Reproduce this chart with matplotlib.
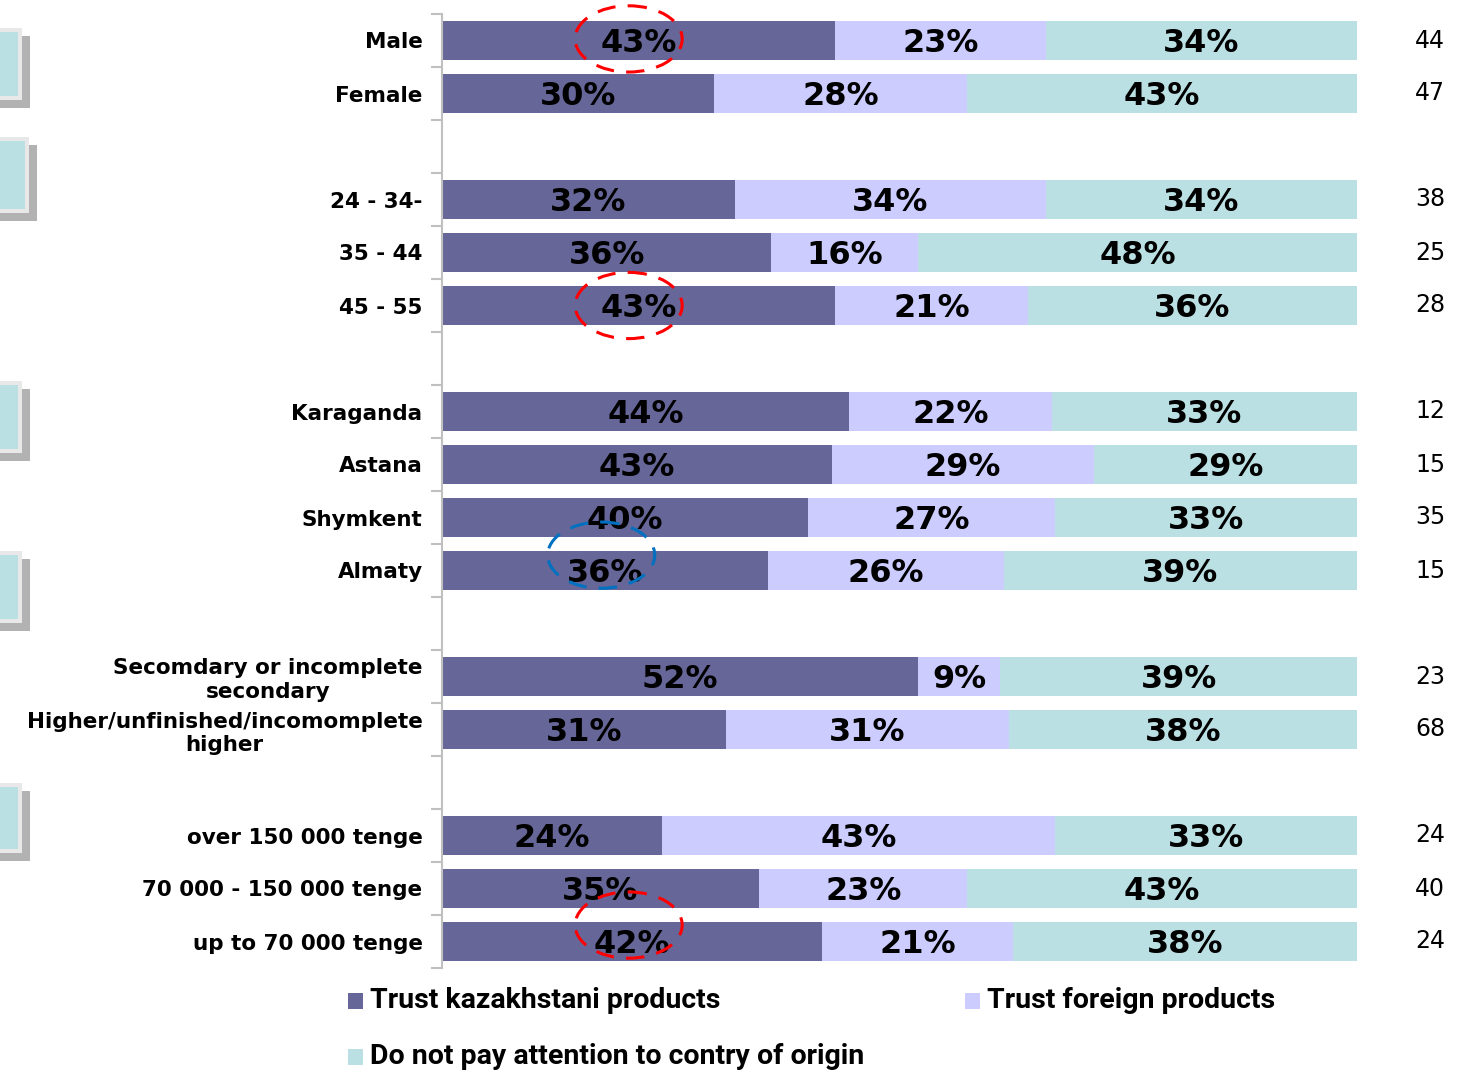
import matplotlib
matplotlib.use("Agg")
import matplotlib.pyplot as plt
from matplotlib.patches import Ellipse, Rectangle
import numpy as np

# rows of the chart, blank strings are the spacer rows between groups
categories = ["Male", "Female", "",
              "24 - 34-", "35 - 44", "45 - 55", "",
              "Karaganda", "Astana", "Shymkent", "Almaty", "",
              "Secomdary or incomplete\nsecondary",
              "Higher/unfinished/incomomplete\nhigher", "",
              "over 150 000 tenge", "70 000 - 150 000 tenge", "up to 70 000 tenge"]
trust_kz = [43, 30, np.nan, 32, 36, 43, np.nan, 44, 43, 40, 36, np.nan,
            52, 31, np.nan, 24, 35, 42]
trust_foreign = [23, 28, np.nan, 34, 16, 21, np.nan, 22, 29, 27, 26, np.nan,
                 9, 31, np.nan, 43, 23, 21]
no_attention = [34, 43, np.nan, 34, 48, 36, np.nan, 33, 29, 33, 39, np.nan,
                39, 38, np.nan, 33, 43, 38]
sample_n = [44, 47, None, 38, 25, 28, None, 12, 15, 35, 15, None,
            23, 68, None, 24, 40, 24]
series_names = ["Trust kazakhstani products", "Trust foreign products",
                "Do not pay attention to contry of origin"]
colors = ["#666699", "#CCCCFF", "#BBE0E3"]

W, H = 1461, 1071
fig = plt.figure(figsize=(W / 100, H / 100), dpi=100)
ax = fig.add_axes([442 / W, 1 - 968 / H, (1357 - 442) / W, (968 - 14) / H])

series = np.array([trust_kz, trust_foreign, no_attention], dtype=float)
totals = np.nansum(series, axis=0)
totals[totals == 0] = 1
shares = np.nan_to_num(series) / totals * 100
y = np.arange(len(categories))

left = np.zeros(len(categories))
for k in range(3):
    ax.barh(y, shares[k], left=left, height=0.72, color=colors[k], edgecolor="none")
    for i in range(len(categories)):
        if np.isnan(series[k, i]):
            continue
        ax.text(left[i] + shares[k, i] / 2, i + 0.05, f"{int(series[k, i])}%",
                ha="center", va="center", fontsize=23, fontweight="bold", color="black")
    left += shares[k]

ax.set_xlim(0, 100)
ax.set_ylim(len(categories) - 0.5, -0.5)
ax.set_xticks([])
ax.set_yticks(y)
ax.set_yticklabels(categories, fontsize=15.5, fontweight="bold", multialignment="center")
ax.set_yticks(np.arange(len(categories) + 1) - 0.5, minor=True)
ax.tick_params(axis="y", which="major", length=0, pad=14)
ax.tick_params(axis="y", which="minor", length=8, width=1.5, color="#c0c0c0")
for side in ["top", "right", "bottom"]:
    ax.spines[side].set_visible(False)
ax.spines["left"].set_color("#c0c0c0")
ax.spines["left"].set_linewidth(1.5)

# sample sizes on the right
for i, n in enumerate(sample_n):
    if n is None:
        continue
    ax.text(1.08, i, str(n), transform=ax.get_yaxis_transform(),
            ha="center", va="center", fontsize=17)

# highlighted values
for row, dy, col in [(0, -0.03, "red"), (5, 0.0, "red"), (17, -0.31, "red"), (10, -0.29, "#0070C0")]:
    x0 = 20.4 if col == "red" else 17.4
    ax.add_patch(Ellipse((x0, row + dy), 11.7, 1.25, fill=False, edgecolor=col,
                         linewidth=2.2, linestyle=(0, (6, 4)), clip_on=False, zorder=5))


# decorative boxes on the left edge
def box(top, bottom, right, inner_pad=4):
    def rect(x0, y0, x1, y1, c):
        fig.add_artist(Rectangle((x0 / W, 1 - y1 / H), (x1 - x0) / W, (y1 - y0) / H,
                                 transform=fig.transFigure, facecolor=c, edgecolor="none"))
    rect(-5, top + 8, right + 8, bottom + 8, "#b2b2b2")
    rect(-5, top, right, bottom, "#e8e8e8")
    rect(-5, top + inner_pad, right - inner_pad, bottom - inner_pad, "#BBE0E3")


box(28, 100, 22)
box(137, 213, 29)
box(381, 453, 22)
box(551, 623, 22)
box(783, 853, 22)

# legend
legend_pos = [(348, 1001), (965, 1001), (348, 1057)]
for (lx, ly), name, c in zip(legend_pos, series_names, colors):
    fig.add_artist(Rectangle((lx / W, 1 - (ly + 8) / H), 15 / W, 16 / H,
                             transform=fig.transFigure, facecolor=c, edgecolor="none"))
    fig.text((lx + 22) / W, 1 - ly / H, name, ha="left", va="center", fontsize=20.5,
             fontweight="bold", family=["Roboto", "DejaVu Sans"])

fig.savefig("out.png", dpi=100)
